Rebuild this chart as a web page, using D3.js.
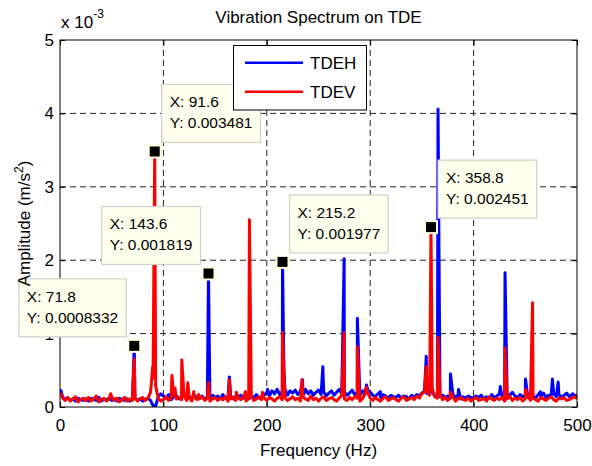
<!DOCTYPE html>
<html><head><meta charset="utf-8">
<script src="https://cdn.jsdelivr.net/npm/d3@7"></script>
<style>body{margin:0;background:#fff} text{font-family:"Liberation Sans",Arial,sans-serif;fill:#000}</style>
</head><body><svg id="c" width="592" height="466"></svg>
<script>
// ---- DATA (amplitudes in units of 1e-3 m/s^2) ----
const seriesNames = ["TDEH", "TDEV"];
const seriesColors = ["#0000ff", "#ff0000"];
const noiseStartHz = 0, noiseStepHz = 2.5, noiseEndHz = 500;

const noiseTDEH = [
 0.22,0.14,0.10,0.12,0.09,0.11,0.08,0.12,0.10,0.09,
 0.11,0.08,0.12,0.10,0.09,0.13,0.08,0.11,0.10,0.12,
 0.09,0.11,0.08,0.12,0.10,0.09,0.11,0.08,0.10,0.12,
 0.09,0.11,0.08,0.10,0.12,0.09,0.02,0.01,0.14,0.18,
 0.15,0.12,0.17,0.10,0.14,0.16,0.11,0.13,0.15,0.12,
 0.14,0.11,0.16,0.12,0.13,0.15,0.10,0.14,0.12,0.16,
 0.13,0.15,0.11,0.17,0.12,0.14,0.16,0.11,0.15,0.13,
 0.16,0.12,0.14,0.11,0.15,0.13,0.17,0.12,0.14,0.16,
 0.20,0.15,0.22,0.18,0.24,0.17,0.21,0.25,0.16,0.22,
 0.19,0.23,0.17,0.21,0.15,0.24,0.18,0.22,0.16,0.20,
 0.23,0.17,0.21,0.15,0.19,0.22,0.16,0.20,0.24,0.18,
 0.21,0.16,0.19,0.23,0.17,0.20,0.15,0.22,0.18,0.24,
 0.20,0.16,0.14,0.18,0.13,0.17,0.15,0.12,0.16,0.14,
 0.13,0.16,0.12,0.15,0.14,0.11,0.16,0.13,0.17,0.15,
 0.19,0.22,0.18,0.24,0.20,0.15,0.17,0.14,0.16,0.13,
 0.15,0.12,0.17,0.13,0.16,0.11,0.14,0.12,0.15,0.13,
 0.12,0.15,0.13,0.16,0.11,0.14,0.12,0.17,0.13,0.15,
 0.18,0.14,0.17,0.13,0.16,0.20,0.15,0.13,0.17,0.14,
 0.16,0.13,0.18,0.15,0.12,0.17,0.14,0.19,0.13,0.16,
 0.15,0.18,0.14,0.17,0.13,0.16,0.19,0.14,0.17,0.15,
 0.16];

const noiseTDEV = [
 0.16,0.12,0.09,0.13,0.08,0.11,0.14,0.07,0.10,0.12,
 0.09,0.13,0.08,0.11,0.15,0.07,0.10,0.12,0.08,0.11,
 0.14,0.09,0.12,0.07,0.10,0.13,0.08,0.11,0.09,0.12,
 0.08,0.11,0.13,0.09,0.12,0.20,0.40,0.30,0.12,0.08,
 0.10,0.14,0.09,0.12,0.16,0.11,0.13,0.10,0.15,0.09,
 0.12,0.08,0.13,0.10,0.11,0.14,0.09,0.12,0.08,0.11,
 0.13,0.09,0.12,0.10,0.14,0.08,0.11,0.13,0.09,0.12,
 0.10,0.13,0.08,0.12,0.15,0.09,0.11,0.14,0.10,0.12,
 0.09,0.13,0.11,0.08,0.12,0.14,0.10,0.13,0.09,0.11,
 0.14,0.10,0.12,0.08,0.13,0.11,0.09,0.15,0.10,0.12,
 0.08,0.12,0.14,0.09,0.11,0.13,0.10,0.08,0.12,0.16,
 0.11,0.09,0.13,0.10,0.14,0.12,0.08,0.11,0.18,0.20,
 0.12,0.09,0.13,0.10,0.08,0.12,0.14,0.09,0.11,0.13,
 0.10,0.08,0.12,0.14,0.09,0.11,0.13,0.10,0.15,0.12,
 0.18,0.20,0.22,0.16,0.25,0.14,0.12,0.18,0.10,0.13,
 0.09,0.12,0.14,0.08,0.11,0.13,0.10,0.09,0.12,0.08,
 0.11,0.13,0.09,0.10,0.12,0.08,0.14,0.11,0.09,0.12,
 0.10,0.13,0.08,0.11,0.15,0.09,0.12,0.10,0.13,0.08,
 0.11,0.14,0.09,0.12,0.10,0.08,0.13,0.11,0.09,0.12,
 0.14,0.10,0.08,0.12,0.11,0.13,0.09,0.10,0.12,0.14,
 0.11];

const peakFreqTDEH = [1.0, 71.8, 143.6, 163.8, 200.8, 215.2, 216.6, 234.6, 254.2, 274.8, 287.6, 296.4, 309.8,
  354.2, 365.6, 377.6, 385.4, 425.8, 430.4, 450.2, 464.6, 476.2, 481.8, 496.0];
const peakAmpTDEH  = [0.22, 0.8332, 1.819, 0.41, 0.24, 1.977, 0.48, 0.37, 0.55, 2.02, 1.21, 0.30, 0.21,
  0.69, 4.06, 0.45, 0.24, 0.28, 1.83, 0.38, 0.21, 0.38, 0.34, 0.18];

const peakFreqTDEV = [1.0, 49.0, 71.8, 88.2, 89.6, 91.6, 93.0, 108.2, 111.2, 117.8, 123.6, 129.4, 134.0, 143.6,
  163.8, 170.6, 179.4, 183.2, 195.8, 215.2, 234.0, 274.8, 287.6, 296.6, 354.2, 358.8, 365.6, 377.6, 430.4, 450.4, 457.0];
const peakAmpTDEV  = [0.18, 0.18, 0.65, 0.30, 0.55, 3.481, 0.25, 0.43, 0.26, 0.64, 0.33, 0.21, 0.17, 0.33,
  0.37, 0.20, 0.21, 2.55, 0.20, 1.01, 0.37, 1.01, 0.82, 0.27, 0.55, 2.451, 0.95, 0.20, 0.80, 0.24, 1.42];

const xTicks = [0, 100, 200, 300, 400, 500];
const yTicks = [0, 1, 2, 3, 4, 5];

const tipFreq = [71.8, 91.6, 143.6, 215.2, 358.8];
const tipAmp  = [0.0008332, 0.003481, 0.001819, 0.001977, 0.002451];
const tipLabelX = ["71.8", "91.6", "143.6", "215.2", "358.8"];
const tipLabelY = ["0.0008332", "0.003481", "0.001819", "0.001977", "0.002451"];

// ---- LAYOUT ----
const svg = d3.select("#c");
const L = 60, R = 577, T = 40, B = 407;
const x = d3.scaleLinear().domain([0, 500]).range([L, R]);
const y = d3.scaleLinear().domain([0, 5]).range([B, T]);
const tipOnLeft = [true, false, true, false, false];

function buildSeries(noise, pf, pa) {
  const pts = noise.map((v, i) => [noiseStartHz + i * noiseStepHz, v]);
  pf.forEach((f, i) => pts.push([f, pa[i]]));
  pts.sort((a, b) => a[0] - b[0]);
  return pts;
}
const series = [
  buildSeries(noiseTDEH, peakFreqTDEH, peakAmpTDEH),
  buildSeries(noiseTDEV, peakFreqTDEV, peakAmpTDEV)
];

svg.append("defs").append("clipPath").attr("id", "clip")
  .append("rect").attr("x", L).attr("y", T).attr("width", R - L).attr("height", B - T);

// grid
const grid = svg.append("g").attr("stroke", "#222").attr("stroke-width", 1).attr("stroke-dasharray", "6,4");
xTicks.slice(1, -1).forEach(t => grid.append("line").attr("x1", x(t)).attr("x2", x(t)).attr("y1", T).attr("y2", B));
yTicks.slice(1, -1).forEach(t => grid.append("line").attr("y1", y(t)).attr("y2", y(t)).attr("x1", L).attr("x2", R));

// lines
const line = d3.line().x(d => x(d[0])).y(d => y(d[1]));
const lg = svg.append("g").attr("clip-path", "url(#clip)");
series.forEach((s, i) => {
  lg.append("path").datum(s).attr("d", line).attr("fill", "none")
    .attr("stroke", seriesColors[i]).attr("stroke-width", 3).attr("stroke-linejoin", "round");
});

// axes
svg.append("g").attr("transform", `translate(0,${B})`)
  .call(d3.axisBottom(x).tickValues(xTicks).tickSize(-5).tickPadding(12).tickFormat(d3.format("d")));
svg.append("g").attr("transform", `translate(${L},0)`)
  .call(d3.axisLeft(y).tickValues(yTicks).tickSize(-5).tickPadding(6).tickFormat(d3.format("d")));
svg.append("g").attr("transform", `translate(0,${T})`)
  .call(d3.axisTop(x).tickValues(xTicks).tickSize(-5).tickFormat(""));
svg.append("g").attr("transform", `translate(${R},0)`)
  .call(d3.axisRight(y).tickValues(yTicks).tickSize(-5).tickFormat(""));
svg.selectAll(".domain").remove();
svg.selectAll(".tick line").attr("stroke", "#000");
svg.selectAll(".tick text").style("font-size", "17px").style("font-family", "'Liberation Sans',Arial,sans-serif");
svg.append("rect").attr("x", L).attr("y", T).attr("width", R - L).attr("height", B - T)
  .attr("fill", "none").attr("stroke", "#000").attr("stroke-width", 1);

// exponent
const ex = svg.append("text").attr("x", 61).attr("y", 28).style("font-size", "17px");
ex.append("tspan").text("x 10");
ex.append("tspan").attr("dy", -10).style("font-size", "12px").text("-3");

// title
svg.append("text").attr("x", (L + R) / 2).attr("y", 23).attr("text-anchor", "middle")
  .style("font-size", "17px").text("Vibration Spectrum on TDE");

// x label
svg.append("text").attr("x", (L + R) / 2).attr("y", 456).attr("text-anchor", "middle")
  .style("font-size", "17px").text("Frequency (Hz)");

// data tips
tipFreq.forEach((f, i) => {
  const mx = x(f), my = y(tipAmp[i] * 1000);
  const g = svg.append("g");
  const t1 = g.append("text").style("font-size", "15.5px").text("X: " + tipLabelX[i]);
  const t2 = g.append("text").style("font-size", "15.5px").text("Y: " + tipLabelY[i]);
  const w = Math.max(t1.node().getComputedTextLength(), t2.node().getComputedTextLength()) + 16;
  const h = 58;
  const bx = tipOnLeft[i] ? mx - 8 - w : mx + 7;
  const by = my - 67;
  g.insert("rect", "text").attr("x", bx).attr("y", by).attr("width", w).attr("height", h)
    .attr("fill", "#ffffee").attr("stroke", "#cfcfc8").attr("stroke-width", 1.2);
  t1.attr("x", bx + 8).attr("y", by + 23);
  t2.attr("x", bx + 8).attr("y", by + 44);
  svg.append("rect").attr("x", mx - 7).attr("y", my - 7).attr("width", 14).attr("height", 14).attr("fill", "#ffffe0");
  svg.append("rect").attr("x", mx - 5).attr("y", my - 5).attr("width", 10).attr("height", 10).attr("fill", "#000");
});

// legend
const leg = svg.append("g");
leg.append("rect").attr("x", 233.5).attr("y", 45.5).attr("width", 133).attr("height", 64.5)
  .attr("fill", "#fff").attr("stroke", "#000").attr("stroke-width", 1);
seriesNames.forEach((n, i) => {
  const yy = 62.7 + i * 29;
  leg.append("line").attr("x1", 245).attr("x2", 303).attr("y1", yy).attr("y2", yy)
    .attr("stroke", seriesColors[i]).attr("stroke-width", 2.6);
  leg.append("text").attr("x", 310).attr("y", yy + 6).style("font-size", "17px").text(n);
});

// y label (drawn last, above tips as in the original)
const yl = svg.append("text").attr("transform", "translate(29.5,223.5) rotate(-90)")
  .attr("text-anchor", "middle").style("font-size", "17px");
yl.append("tspan").text("Amplitude (m/s");
yl.append("tspan").attr("dy", -7).style("font-size", "12px").text("2");
yl.append("tspan").attr("dy", 7).text(")");
</script>
</body></html>
